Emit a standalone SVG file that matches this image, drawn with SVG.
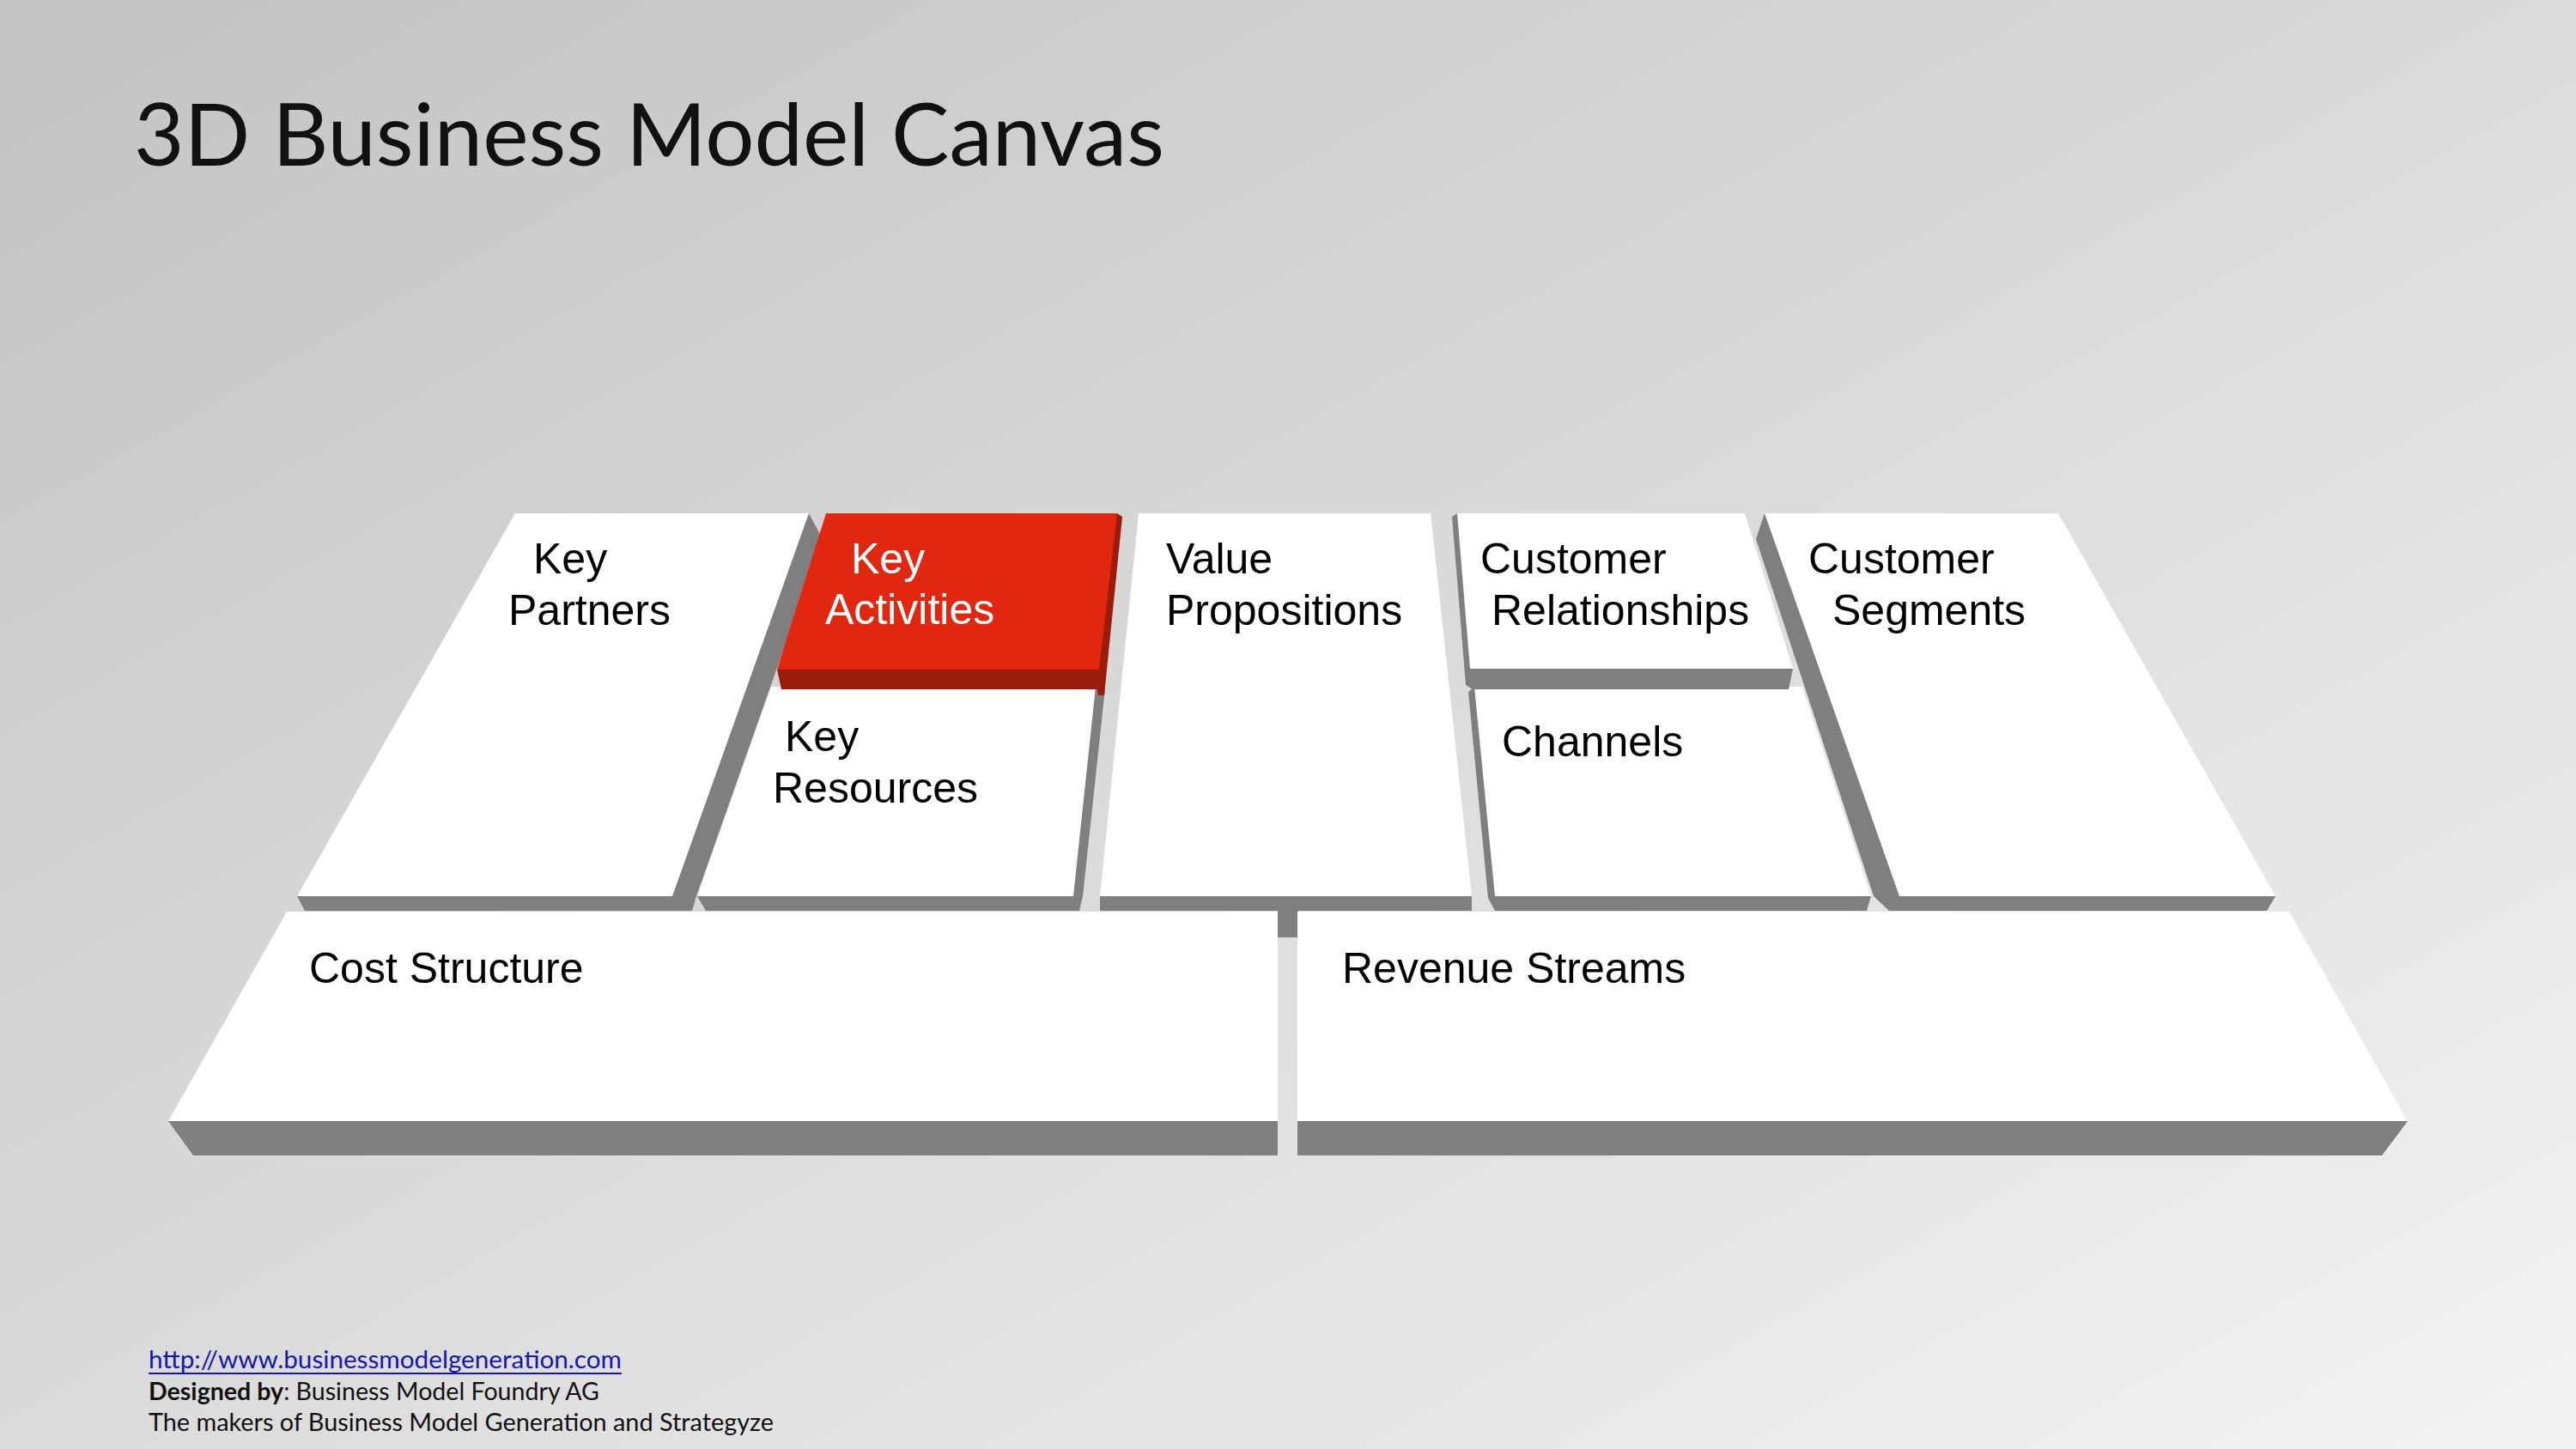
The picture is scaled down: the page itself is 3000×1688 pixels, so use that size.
<svg xmlns="http://www.w3.org/2000/svg" width="3000" height="1688" viewBox="0 0 3000 1688">
<defs>
<linearGradient id="bg" x1="0" y1="0" x2="1" y2="1">
<stop offset="0" stop-color="#c3c3c3"/>
<stop offset="1" stop-color="#f3f3f3"/>
</linearGradient>
</defs>
<style>
.top{fill:#ffffff}
.side{fill:#7f7f7f}
.redtop{fill:#e1270f}
.redside{fill:#9c1b0b}
.lbl{font-family:"Liberation Sans",Arial,sans-serif;font-size:50px;fill:#000}
.lblw{font-family:"Liberation Sans",Arial,sans-serif;font-size:50px;fill:#fff}
.title{font-family:Lato,"Open Sans",sans-serif;font-size:100px;fill:#111}
.foot{font-family:Lato,"Open Sans",sans-serif;font-size:29px;fill:#111}
</style>
<rect width="3000" height="1688" fill="url(#bg)"/>
<text class="title" x="156" y="193" textLength="1200" lengthAdjust="spacingAndGlyphs">3D Business Model Canvas</text>

<g id="key-partners">
<polygon class="side" points="942,598 958,628 811,1044 806,1061 355,1061 346,1044"/>
<polygon class="top" points="600,598 942,598 783,1044 346,1044"/>
<text class="lbl" x="621" y="668">Key</text>
<text class="lbl" x="592" y="728">Partners</text>
</g>

<g id="key-resources">
<polygon class="side" points="1276,800 1287,802 1261,1044 1257,1061 822,1061 812,1044"/>
<polygon class="top" points="898,800 1276,800 1250,1044 812,1044"/>
<text class="lbl" x="914" y="875">Key</text>
<text class="lbl" x="900" y="935">Resources</text>
</g>

<g id="key-activities">
<polygon class="redside" points="1301,598 1307,602 1286,810 1279,810 1278,803 910,803 905,780"/>
<polygon class="redtop" points="962,598 1301,598 1280,780 905,780"/>
<text class="lblw" x="991" y="668">Key</text>
<text class="lblw" x="961" y="727">Activities</text>
</g>

<g id="value-propositions">
<polygon class="side" points="1281,1044 1714,1044 1714,1061 1512,1061 1512,1092 1488,1092 1488,1061 1281,1061"/>
<polygon class="top" points="1326,598 1666,598 1714,1044 1281,1044"/>
<text class="lbl" x="1358" y="668">Value</text>
<text class="lbl" x="1358" y="728">Propositions</text>
</g>

<g id="channels">
<polygon class="side" points="1717,800 1710,806 1733,1046 1741,1061 2174,1061 2179,1044"/>
<polygon class="top" points="1717,800 2099,800 2179,1044 1741,1044"/>
<text class="lbl" x="1749" y="881">Channels</text>
</g>

<g id="customer-relationships">
<polygon class="side" points="1697,598 1691,602 1707,798 1715,803 2083,803 2088,779"/>
<polygon class="top" points="1697,598 2032,598 2088,779 1712,779"/>
<text class="lbl" x="1724" y="668">Customer</text>
<text class="lbl" x="1737" y="728">Relationships</text>
</g>

<g id="customer-segments">
<polygon class="side" points="2055,598 2045,628 2182,1044 2200,1061 2640,1061 2650,1044"/>
<polygon class="top" points="2055,598 2397,598 2650,1044 2212,1044"/>
<text class="lbl" x="2106" y="668">Customer</text>
<text class="lbl" x="2134" y="728">Segments</text>
</g>

<g id="cost-structure">
<polygon class="side" points="196,1306 1488,1306 1488,1346 225,1346"/>
<polygon class="top" points="334,1062 1488,1062 1488,1306 196,1306"/>
<text class="lbl" x="360" y="1145">Cost Structure</text>
</g>

<g id="revenue-streams">
<polygon class="side" points="1511,1306 2804,1306 2774,1346 1511,1346"/>
<polygon class="top" points="1511,1062 2666,1062 2804,1306 1511,1306"/>
<text class="lbl" x="1563" y="1145">Revenue Streams</text>
</g>

<g id="footer">
<text class="foot" x="173" y="1594" style="fill:#1515b0" textLength="551" lengthAdjust="spacingAndGlyphs">http://www.businessmodelgeneration.com</text>
<rect x="173" y="1599" width="551" height="2" fill="#1515b0"/>
<text class="foot" x="173" y="1631" textLength="525" lengthAdjust="spacingAndGlyphs"><tspan font-weight="bold">Designed by</tspan>: Business Model Foundry AG</text>
<text class="foot" x="173" y="1667" textLength="728" lengthAdjust="spacingAndGlyphs">The makers of Business Model Generation and Strategyze</text>
</g>
</svg>
